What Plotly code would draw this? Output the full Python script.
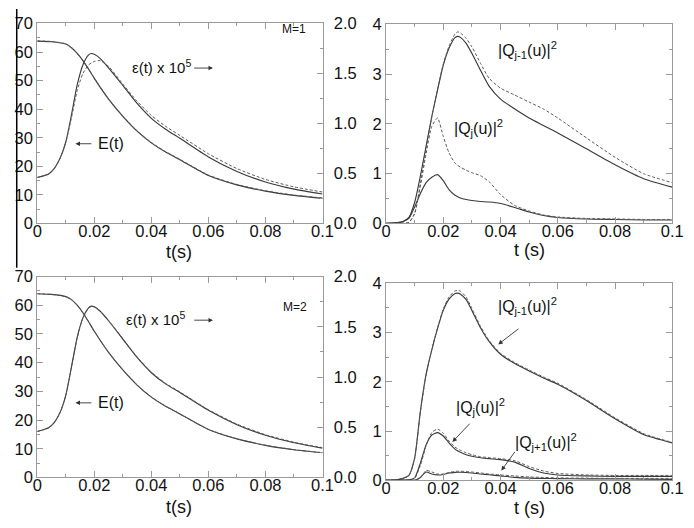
import plotly.graph_objects as go

W, H = 694, 528

# ---------------- data ----------------
t_E = [0, 0.004, 0.006, 0.008, 0.010, 0.012, 0.014, 0.016, 0.018, 0.019, 0.020, 0.022, 0.025,
       0.030, 0.035, 0.040, 0.045, 0.050, 0.060, 0.070, 0.080, 0.090, 0.100]
E1_solid = [16.1, 17.3, 19.3, 22.8, 28.5, 38.0, 48.5, 55.5, 59.0, 59.5, 59.2, 57.8, 54.5,
            48.3, 42.0, 36.8, 33.0, 29.8, 23.3, 18.2, 14.5, 12.0, 10.3]
E1_dash = [16.1, 17.3, 19.3, 22.8, 28.3, 37.0, 46.5, 52.5, 55.5, 56.2, 56.7, 57.0, 55.0,
           48.8, 42.8, 37.8, 34.0, 30.8, 24.4, 19.2, 15.4, 12.8, 11.0]
E2_solid = [16.0, 17.3, 19.2, 22.6, 28.6, 38.5, 48.8, 55.6, 59.1, 59.7, 59.5, 58.0, 54.6,
            48.2, 41.8, 36.5, 32.6, 29.6, 23.4, 18.4, 14.7, 12.1, 10.2]
E2_dash = [16.0, 17.3, 19.2, 22.6, 28.5, 38.3, 48.6, 55.5, 59.0, 59.6, 59.4, 58.0, 54.7,
           48.4, 42.0, 36.7, 32.8, 29.8, 23.6, 18.6, 14.9, 12.3, 10.4]

t_eps = [0, 0.005, 0.010, 0.012, 0.014, 0.016, 0.018, 0.020, 0.025, 0.030, 0.035, 0.040,
         0.045, 0.050, 0.060, 0.070, 0.080, 0.090, 0.100]
eps1_solid = [1.823, 1.817, 1.794, 1.757, 1.700, 1.629, 1.543, 1.451, 1.243, 1.071, 0.923,
              0.806, 0.714, 0.637, 0.480, 0.386, 0.323, 0.280, 0.251]
eps1_dash = [1.826, 1.820, 1.797, 1.760, 1.703, 1.632, 1.546, 1.454, 1.246, 1.074, 0.926,
             0.810, 0.718, 0.641, 0.484, 0.390, 0.327, 0.284, 0.255]
eps2_solid = [1.829, 1.822, 1.800, 1.770, 1.715, 1.640, 1.550, 1.455, 1.245, 1.070, 0.920,
              0.800, 0.708, 0.632, 0.478, 0.384, 0.320, 0.276, 0.246]
eps2_dash = [1.829, 1.822, 1.800, 1.770, 1.715, 1.641, 1.551, 1.456, 1.246, 1.071, 0.921,
             0.801, 0.709, 0.633, 0.479, 0.385, 0.321, 0.277, 0.247]

t_Q = [0, 0.002, 0.004, 0.006, 0.008, 0.010, 0.012, 0.014, 0.016, 0.018, 0.020, 0.022, 0.024,
       0.025, 0.026, 0.028, 0.030, 0.033, 0.036, 0.040, 0.045, 0.050, 0.055, 0.060, 0.070,
       0.080, 0.090, 0.100]
Qm1_solid_1 = [0, 0.005, 0.015, 0.04, 0.12, 0.42, 0.95, 1.55, 2.15, 2.68, 3.18, 3.52, 3.73,
               3.76, 3.74, 3.62, 3.42, 3.08, 2.76, 2.50, 2.30, 2.12, 1.97, 1.82, 1.50, 1.18,
               0.90, 0.73]
Qm1_dash_1 = [0, 0, 0, 0.005, 0.02, 0.20, 0.80, 1.50, 2.15, 2.70, 3.20, 3.56, 3.80, 3.85,
              3.83, 3.72, 3.55, 3.22, 2.92, 2.72, 2.58, 2.44, 2.30, 2.12, 1.72, 1.33, 1.00,
              0.82]
Qj_solid_1 = [0, 0.005, 0.015, 0.04, 0.10, 0.33, 0.60, 0.82, 0.93, 0.98, 0.86, 0.68, 0.57,
              0.54, 0.51, 0.48, 0.46, 0.44, 0.43, 0.40, 0.32, 0.23, 0.16, 0.12, 0.09, 0.08,
              0.07, 0.07]
Qj_dash_1 = [0, 0, 0, 0.005, 0.02, 0.20, 0.75, 1.40, 1.95, 2.12, 1.75, 1.42, 1.22, 1.17,
             1.13, 1.07, 1.02, 0.96, 0.84, 0.58, 0.36, 0.25, 0.17, 0.13, 0.10, 0.09, 0.08,
             0.08]

Qm1_solid_2 = [0, 0.005, 0.015, 0.04, 0.10, 0.45, 1.40, 2.15, 2.65, 3.08, 3.45, 3.68, 3.79,
               3.80, 3.78, 3.67, 3.45, 3.10, 2.82, 2.56, 2.37, 2.22, 2.08, 1.95, 1.62, 1.25,
               0.93, 0.76]
Qm1_dash_2 = [0, 0.005, 0.015, 0.04, 0.10, 0.44, 1.38, 2.14, 2.66, 3.10, 3.48, 3.72, 3.84,
              3.86, 3.84, 3.72, 3.49, 3.13, 2.84, 2.58, 2.39, 2.24, 2.10, 1.97, 1.64, 1.27,
              0.95, 0.77]
Qj_solid_2 = [0, 0, 0, 0.005, 0.01, 0.05, 0.35, 0.72, 0.92, 0.97, 0.90, 0.76, 0.64, 0.60,
              0.57, 0.52, 0.49, 0.46, 0.44, 0.42, 0.37, 0.24, 0.15, 0.11, 0.09, 0.08, 0.08,
              0.08]
Qj_dash_2 = [0, 0, 0, 0, 0.005, 0.04, 0.30, 0.70, 0.97, 1.04, 0.96, 0.80, 0.68, 0.64, 0.61,
             0.56, 0.52, 0.48, 0.46, 0.44, 0.40, 0.28, 0.19, 0.14, 0.11, 0.10, 0.10, 0.10]
Qp1_solid_2 = [0, 0, 0, 0, 0, 0, 0.06, 0.17, 0.13, 0.11, 0.12, 0.15, 0.16, 0.165, 0.165,
               0.16, 0.15, 0.13, 0.115, 0.09, 0.06, 0.045, 0.04, 0.035, 0.03, 0.03, 0.025,
               0.02]
Qp1_dash_2 = [0, 0, 0, 0, 0, 0, 0.05, 0.20, 0.17, 0.13, 0.13, 0.16, 0.18, 0.185, 0.185,
              0.18, 0.17, 0.15, 0.13, 0.11, 0.09, 0.07, 0.06, 0.05, 0.045, 0.04, 0.04, 0.04]

t_ticks = [0, 0.02, 0.04, 0.06, 0.08, 0.1]
t_ticktext = ["0", "0.02", "0.04", "0.06", "0.08", "0.1"]

# ---------------- layout geometry (pixels) ----------------
def px_x(a, b):
    return [a / W, b / W]

def px_y(top, bottom):
    return [1 - bottom / H, 1 - top / H]

XL = px_x(33, 325)
XR = px_x(390, 683)
Y_TL = px_y(15, 222)
Y_TR = px_y(16, 222)
Y_BL = px_y(277, 485)
Y_BR = px_y(284, 488)

FONT = "Liberation Sans, Arial, Helvetica, sans-serif"
FRAME = "#9a9a9a"
CURVE = "#3a3a3a"
DASHC = "#5a5a5a"
TICKFONT = dict(family=FONT, size=16.5, color="#111111")

fig = go.Figure()

def add(x, y, xa, ya, dash=False):
    fig.add_trace(go.Scatter(
        x=x, y=y, xaxis=xa, yaxis=ya, mode="lines", showlegend=False, hoverinfo="skip",
        line=dict(color=DASHC if dash else CURVE, width=1.0 if dash else 1.15,
                  dash="3px,2px" if dash else "solid", shape="spline", smoothing=0.6)))

# top-left
add(t_E, E1_solid, "x", "y")
add(t_E, E1_dash, "x", "y", True)
add(t_eps, eps1_solid, "x", "y2")
add(t_eps, eps1_dash, "x", "y2", True)
# top-right
add(t_Q, Qm1_solid_1, "x2", "y3")
add(t_Q, Qm1_dash_1, "x2", "y3", True)
add(t_Q, Qj_solid_1, "x2", "y3")
add(t_Q, Qj_dash_1, "x2", "y3", True)
# bottom-left
add(t_E, E2_solid, "x3", "y4")
add(t_E, E2_dash, "x3", "y4", True)
add(t_eps, eps2_solid, "x3", "y5")
add(t_eps, eps2_dash, "x3", "y5", True)
# bottom-right
add(t_Q, Qm1_solid_2, "x4", "y6")
add(t_Q, Qm1_dash_2, "x4", "y6", True)
add(t_Q, Qj_solid_2, "x4", "y6")
add(t_Q, Qj_dash_2, "x4", "y6", True)
add(t_Q, Qp1_solid_2, "x4", "y6")
add(t_Q, Qp1_dash_2, "x4", "y6", True)

def xax(domain, anchor):
    return dict(domain=domain, anchor=anchor, range=[0, 0.1], tickvals=t_ticks,
                ticktext=t_ticktext, ticks="inside", ticklen=6, tickcolor=FRAME,
                showline=True, linecolor=FRAME, linewidth=1, mirror="ticks",
                showgrid=False, zeroline=False, tickfont=TICKFONT, ticklabelstandoff=-7,
                minor=dict(dtick=0.01, ticks="inside", ticklen=3, tickcolor=FRAME))

def yax(domain, anchor, rng, dtick, mdt, mirror="ticks", fmt=None, standoff=0):
    d = dict(domain=domain, anchor=anchor, range=rng, dtick=dtick, tick0=0,
             ticks="inside", ticklen=6, tickcolor=FRAME, showline=True, linecolor=FRAME,
             linewidth=1, mirror=mirror, showgrid=False, zeroline=False, tickfont=TICKFONT,
             ticklabelstandoff=standoff,
             minor=dict(dtick=mdt, ticks="inside", ticklen=3, tickcolor=FRAME))
    if fmt:
        d["tickformat"] = fmt
    return d

layout = dict(
    width=W, height=H, margin=dict(l=0, r=0, t=0, b=0),
    paper_bgcolor="white", plot_bgcolor="white",
    xaxis=xax(XL, "y"),
    yaxis=yax(Y_TL, "x", [0, 70], 10, 5, mirror=False),
    yaxis2=yax(Y_TL, "x", [0, 2], 0.5, 0.25, mirror=False, fmt=".1f", standoff=7),
    xaxis2=xax(XR, "y3"),
    yaxis3=yax(Y_TR, "x2", [0, 4], 1, 0.5),
    xaxis3=xax(XL, "y4"),
    yaxis4=yax(Y_BL, "x3", [0, 70], 10, 5, mirror=False),
    yaxis5=yax(Y_BL, "x3", [0, 2], 0.5, 0.25, mirror=False, fmt=".1f", standoff=7),
    xaxis4=xax(XR, "y6"),
    yaxis6=yax(Y_BR, "x4", [0, 4], 1, 0.5),
)
layout["yaxis2"].update(overlaying="y", side="right")
layout["yaxis5"].update(overlaying="y4", side="right")
fig.update_layout(**layout)

LBL = dict(family=FONT, size=18, color="#111111")
ann = []

def text(x, y, xr, yr, s, size=16, xanchor="left"):
    ann.append(dict(x=x, y=y, xref=xr, yref=yr, text=s, showarrow=False,
                    xanchor=xanchor, yanchor="middle",
                    font=dict(family=FONT, size=size, color="#111111")))

def arrow(x, y, ax, ay, xr, yr):
    ann.append(dict(x=x, y=y, ax=ax, ay=ay, xref=xr, yref=yr, axref=xr, ayref=yr,
                    text="", showarrow=True, arrowhead=2, arrowsize=1, arrowwidth=0.9,
                    arrowcolor="#333333"))

# top-left labels
text(0.0325, 55.0, "x", "y", "ε(t) x 10<sup>5</sup>", size=15)
arrow(0.0616, 54.4, 0.0545, 54.4, "x", "y")
text(0.0205, 27.9, "x", "y", "E(t)")
arrow(0.0134, 27.9, 0.0195, 27.9, "x", "y")
text(0.0900, 68.0, "x", "y", "M=1", size=12, xanchor="center")
# top-right labels
text(0.0386, 3.48, "x2", "y3", "|Q<sub>j-1</sub>(u)|<sup>2</sup>")
text(0.0232, 1.92, "x2", "y3", "|Q<sub>j</sub>(u)|<sup>2</sup>")
# bottom-left labels
text(0.0305, 55.5, "x3", "y4", "ε(t) x 10<sup>5</sup>", size=15)
arrow(0.0616, 54.8, 0.0545, 54.8, "x3", "y4")
text(0.0205, 26.0, "x3", "y4", "E(t)")
arrow(0.0134, 26.0, 0.0195, 26.0, "x3", "y4")
text(0.0904, 59.5, "x3", "y4", "M=2", size=12, xanchor="center")
# bottom-right labels
text(0.0386, 3.53, "x4", "y6", "|Q<sub>j-1</sub>(u)|<sup>2</sup>")
arrow(0.0392, 2.76, 0.0468, 3.10, "x4", "y6")
text(0.0239, 1.49, "x4", "y6", "|Q<sub>j</sub>(u)|<sup>2</sup>")
arrow(0.0232, 0.78, 0.0297, 1.18, "x4", "y6")
text(0.0444, 0.78, "x4", "y6", "|Q<sub>j+1</sub>(u)|<sup>2</sup>")
arrow(0.0403, 0.20, 0.0454, 0.61, "x4", "y6")

# axis titles
for (px, py, s) in [(178, 252, "t(s)"), (537, 250, "t (s)"), (178, 516, "t(s)"), (537, 517, "t (s)")]:
    ann.append(dict(x=px / W, y=1 - py / H, xref="paper", yref="paper", text=s,
                    showarrow=False, xanchor="center", yanchor="middle", font=LBL))

fig.update_layout(annotations=ann)

# stray vertical rule at far left
fig.add_shape(type="line", xref="paper", yref="paper", x0=12 / W, x1=12 / W,
              y0=1 - 268 / H, y1=1, line=dict(color="black", width=1.5))

fig.write_html("out.html")
